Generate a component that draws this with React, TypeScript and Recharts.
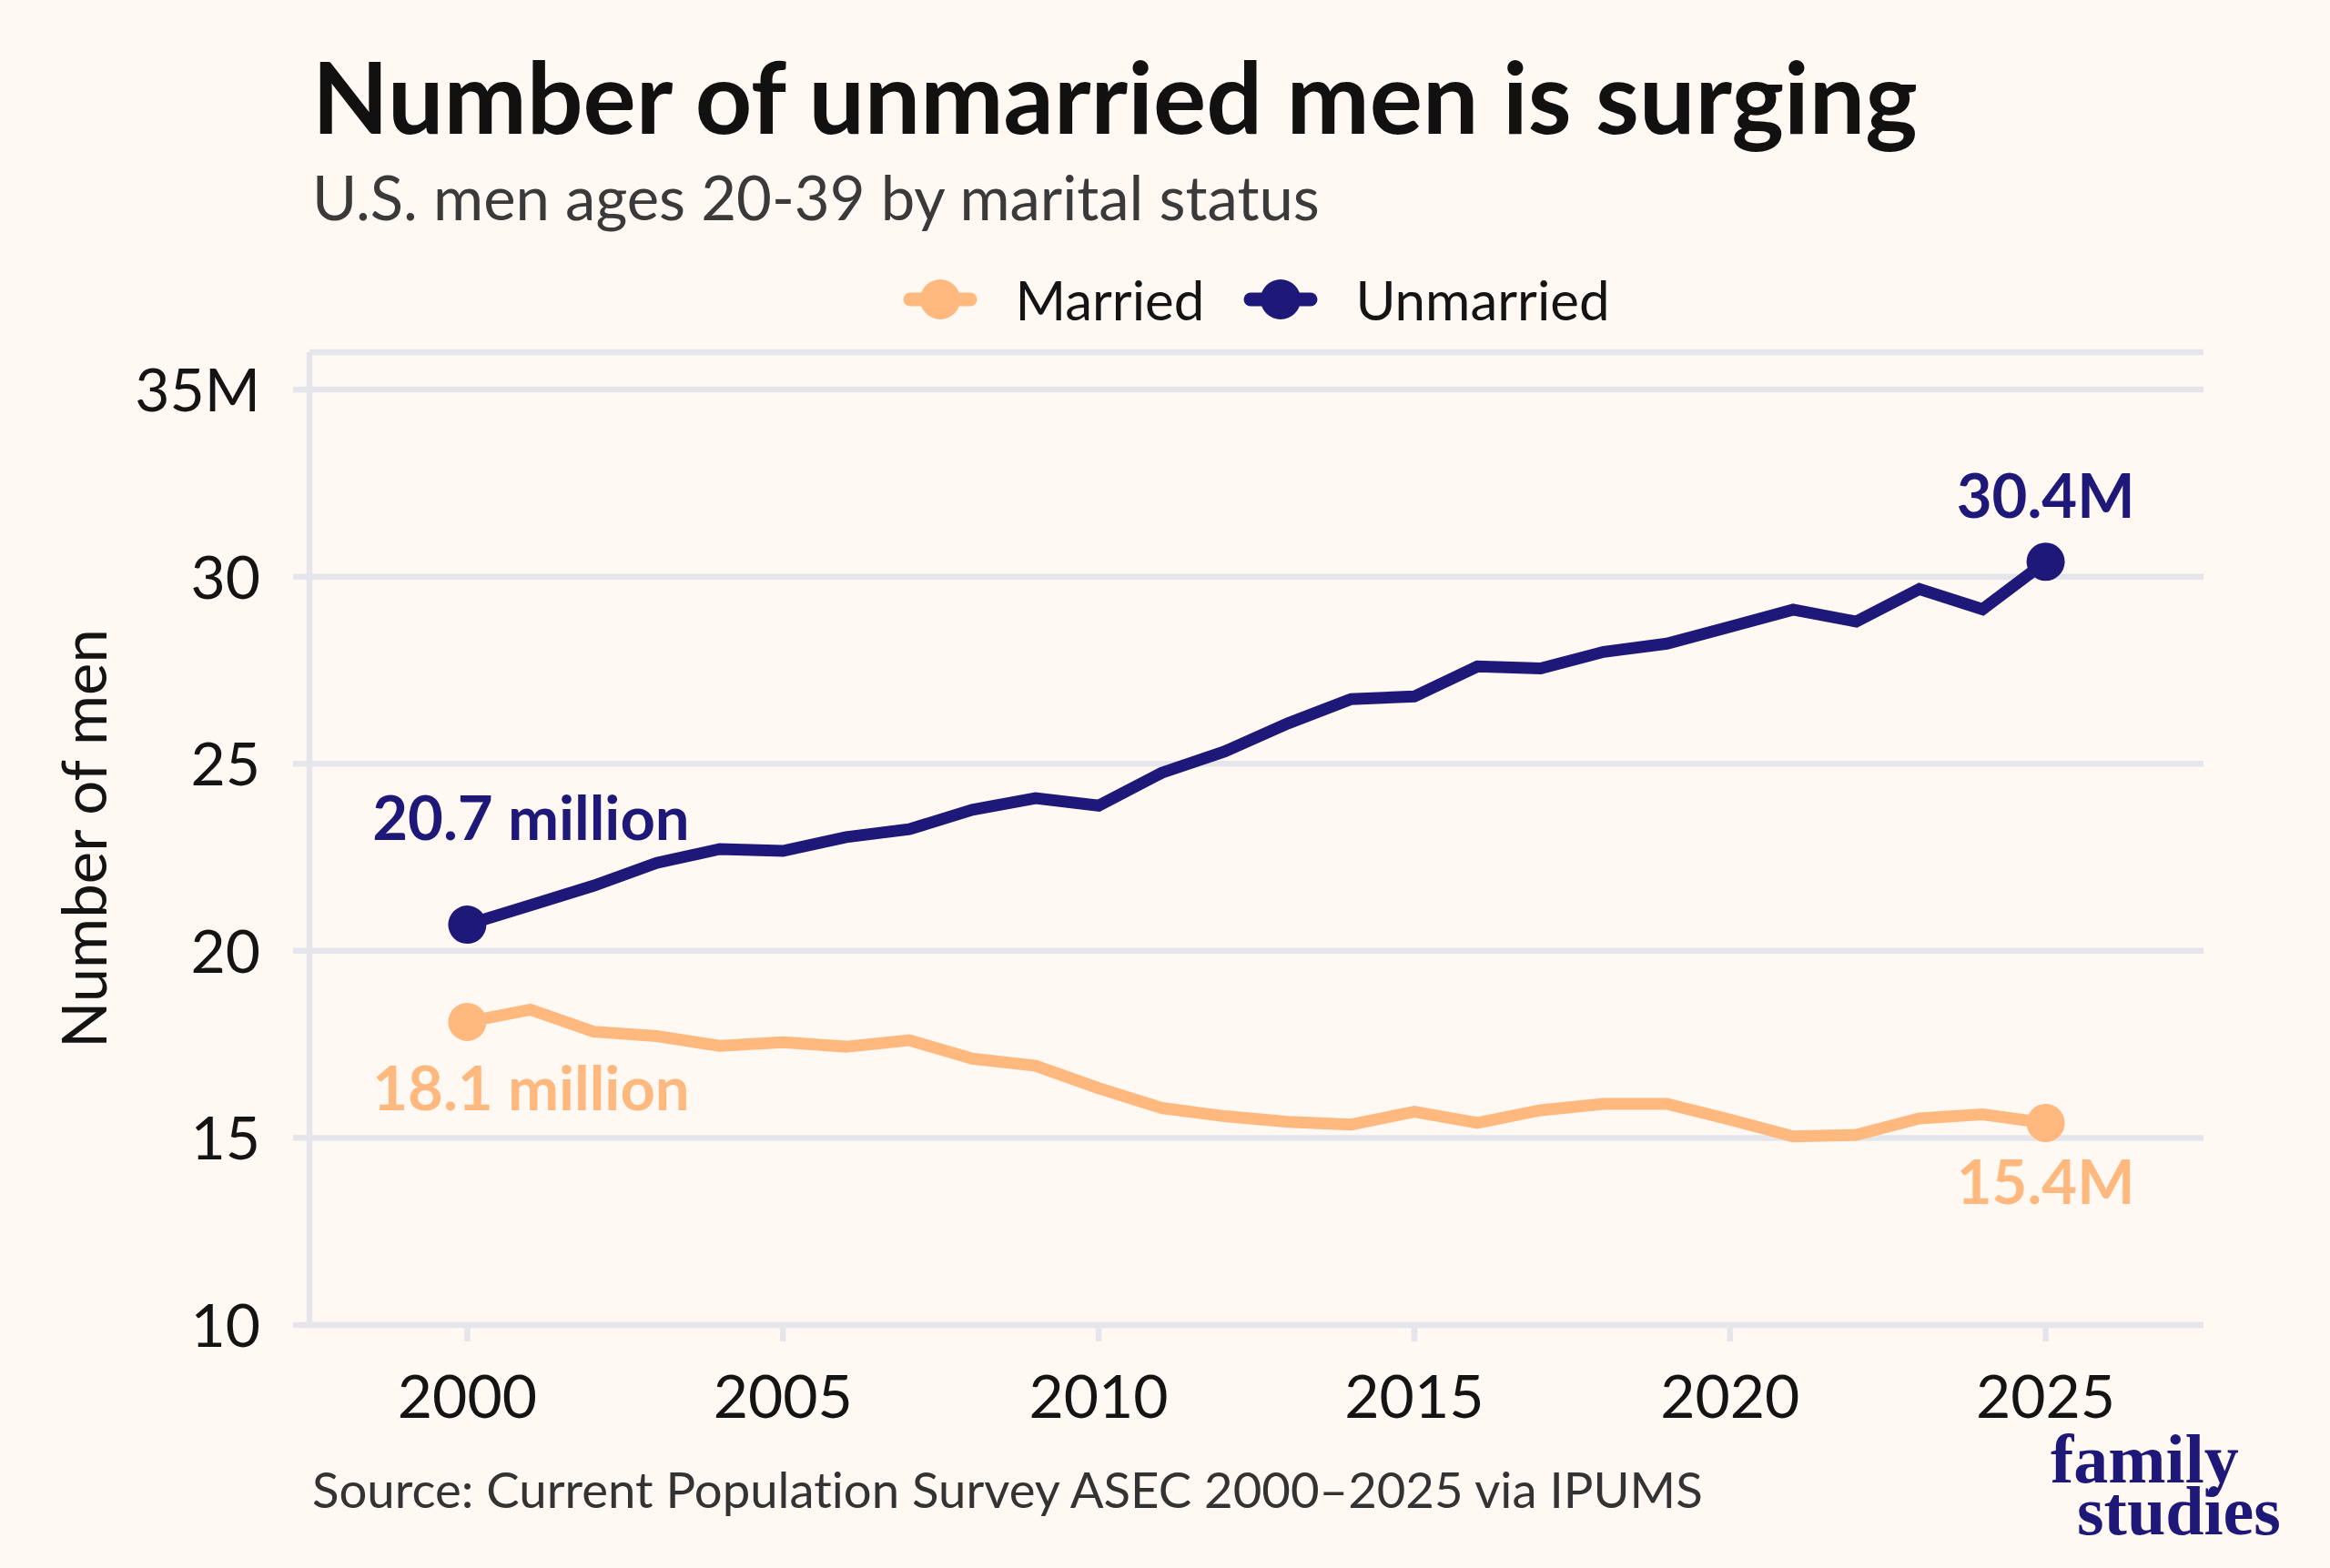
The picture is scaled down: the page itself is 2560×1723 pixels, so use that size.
import React from 'react';
import { LineChart, Line, XAxis, YAxis, CartesianGrid, Legend, LabelList, Label } from 'recharts';

const years = [
  2000, 2001, 2002, 2003, 2004, 2005, 2006, 2007, 2008, 2009, 2010, 2011, 2012,
  2013, 2014, 2015, 2016, 2017, 2018, 2019, 2020, 2021, 2022, 2023, 2024, 2025,
];
// millions of men, ages 20-39
const unmarried = [
  20.7, 21.22, 21.74, 22.35, 22.72, 22.67, 23.04, 23.25, 23.77, 24.08, 23.88, 24.76, 25.33,
  26.08, 26.73, 26.8, 27.6, 27.55, 27.99, 28.21, 28.66, 29.12, 28.8, 29.67, 29.13, 30.4,
];
const married = [
  18.1, 18.43, 17.84, 17.72, 17.46, 17.56, 17.44, 17.61, 17.12, 16.93, 16.33, 15.8, 15.58,
  15.43, 15.36, 15.7, 15.4, 15.74, 15.91, 15.91, 15.49, 15.04, 15.08, 15.52, 15.63, 15.4,
];
const xTicks = [2000, 2005, 2010, 2015, 2020, 2025];
const yTicks = [10, 15, 20, 25, 30, 35];

const NAVY = '#1e1878';
const ORANGE = '#ffb97f';
const GRID = '#e5e6ec';
const BG = '#fff8f3';
const FONT = "Lato, 'Noto Sans', sans-serif";

const data = years.map((y, i) => ({ year: y, married: married[i], unmarried: unmarried[i] }));
const last = years.length - 1;

function endDot(color: string) {
  return (p: any) => {
    if (p.index !== 0 && p.index !== last) return <g key={`e${p.index}`} />;
    return <circle key={`d${p.index}`} cx={p.cx} cy={p.cy} r={21} fill={color} />;
  };
}

// label offsets: [dx, dy] for first and last point
function endLabel(color: string, first: [number, number], end: [number, number]) {
  return (p: any) => {
    const x = p.x ?? p.viewBox?.x;
    const y = p.y ?? p.viewBox?.y;
    if (p.index !== 0 && p.index !== last) return null;
    const v = Number(p.value);
    const [dx, dy] = p.index === 0 ? first : end;
    const txt = p.index === 0 ? `${v.toFixed(1)} million` : `${v.toFixed(1)}M`;
    return (
      <text key={`l${p.index}`} x={x + dx} y={y + dy} textAnchor="middle" fill={color}
        fontFamily={FONT} fontWeight={700} fontSize={67}>{txt}</text>
    );
  };
}

function YTick({ x, y, payload }: any) {
  return (
    <text x={x} y={y} dy={24} textAnchor="end" fill="#141414" fontFamily={FONT} fontSize={66}>
      {payload.value === 35 ? '35M' : payload.value}
    </text>
  );
}

function XTick({ x, y, payload }: any) {
  return (
    <text x={x} y={y} dy={48} textAnchor="middle" fill="#141414" fontFamily={FONT} fontSize={66}>
      {payload.value}
    </text>
  );
}

function LegendContent() {
  const items = [
    { name: 'Married', color: ORANGE },
    { name: 'Unmarried', color: NAVY },
  ];
  return (
    <div style={{ display: 'flex', justifyContent: 'center', alignItems: 'center', gap: 43 }}>
      {items.map(it => (
        <div key={it.name} style={{ display: 'flex', alignItems: 'center', gap: 41 }}>
          <svg width={82} height={48}>
            <line x1={8} y1={24} x2={74} y2={24} stroke={it.color} strokeWidth={15} strokeLinecap="round" />
            <circle cx={41} cy={24} r={22} fill={it.color} />
          </svg>
          <span style={{ fontFamily: FONT, fontSize: 60, color: '#141414', lineHeight: '60px' }}>{it.name}</span>
        </div>
      ))}
    </div>
  );
}

export default function App() {
  return (
    <div style={{ position: 'absolute', left: 0, top: 0, width: 2560, height: 1723, background: BG, overflow: 'hidden' }}>
      <LineChart width={2560} height={1723} data={data} margin={{ top: 387, right: 139, bottom: 0, left: 0 }}>
        <CartesianGrid horizontal vertical={false} stroke={GRID} strokeWidth={6.5} />
        <XAxis
          dataKey="year"
          type="number"
          domain={[1997.5, 2027.5]}
          ticks={xTicks}
          height={267}
          axisLine={{ stroke: GRID, strokeWidth: 6.5 }}
          tickLine={{ stroke: GRID, strokeWidth: 6.5 }}
          tickSize={18}
          tickMargin={36}
          tick={<XTick />}
        />
        <YAxis
          type="number"
          domain={[10, 36]}
          ticks={yTicks}
          width={340}
          axisLine={{ stroke: GRID, strokeWidth: 6.5 }}
          tickLine={{ stroke: GRID, strokeWidth: 6.5 }}
          tickSize={18}
          tickMargin={36}
          tick={<YTick />}
        >
          <Label
            content={(p: any) => {
              const vb = p.viewBox || { x: 0, y: 387, height: 1069 };
              const cx = vb.x + 117;
              const cy = vb.y + vb.height / 2;
              return (
                <text x={cx} y={cy} textAnchor="middle" transform={`rotate(-90, ${cx}, ${cy})`}
                  fill="#141414" fontFamily={FONT} fontSize={67}>Number of men</text>
              );
            }}
          />
        </YAxis>
        <Legend
          layout="horizontal"
          verticalAlign="middle"
          align="center"
          content={<LegendContent />}
          wrapperStyle={{ position: 'absolute', top: 299, left: 340, width: 2081 }}
        />
        <Line
          type="linear"
          dataKey="married"
          name="Married"
          stroke={ORANGE}
          strokeWidth={13}
          dot={endDot(ORANGE)}
          activeDot={false}
          isAnimationActive={false}
        >
          <LabelList dataKey="married" content={endLabel(ORANGE, [70, 97], [0, 89])} />
        </Line>
        <Line
          type="linear"
          dataKey="unmarried"
          name="Unmarried"
          stroke={NAVY}
          strokeWidth={13}
          dot={endDot(NAVY)}
          activeDot={false}
          isAnimationActive={false}
        >
          <LabelList dataKey="unmarried" content={endLabel(NAVY, [70, -93], [0, -48])} />
        </Line>
      </LineChart>
      <svg width={2560} height={1723} style={{ position: 'absolute', left: 0, top: 0, pointerEvents: 'none' }}>
        <text x={343} y={147} fontFamily={FONT} fontWeight={700} fontSize={109} fill="#111111">
          Number of unmarried men is surging
        </text>
        <text x={343} y={242} fontFamily={FONT} fontSize={67} fill="#3a3a3a">
          U.S. men ages 20-39 by marital status
        </text>
        <text x={343} y={1657} fontFamily={FONT} fontSize={54.5} fill="#333333" style={{ fontVariantLigatures: 'none' }}>
          Source: Current Population Survey ASEC 2000–2025 via IPUMS
        </text>
        <text x={2253} y={1629} fontFamily="'Liberation Serif', serif" fontWeight={700} fontSize={76} fill={NAVY}>
          family
        </text>
        <text x={2282} y={1686} fontFamily="'Liberation Serif', serif" fontWeight={700} fontSize={76} fill={NAVY}>
          studies
        </text>
      </svg>
    </div>
  );
}
